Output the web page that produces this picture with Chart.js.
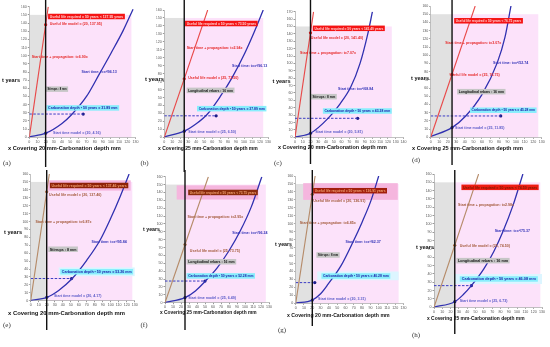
<!DOCTYPE html>
<html>
<head>
<meta charset="utf-8">
<script src="https://cdn.jsdelivr.net/npm/chart.js@4.4.1/dist/chart.umd.min.js"></script>
<style>
  html, body { margin: 0; padding: 0; background: #fff; }
  body { width: 550px; height: 347px; position: relative; overflow: hidden; }
  canvas { position: absolute; }
</style>
</head>
<body>
<script>
// ---- values ----
const panelNames = ["(a)", "(b)", "(c)", "(d)", "(e)", "(f)", "(g)", "(h)"];
const coverDepth = [20, 25, 20, 25, 20, 25, 20, 25];
const xMaxValues = [130, 130, 140, 130, 130, 130, 130, 130];
const yMaxValues = [160, 160, 170, 160, 160, 160, 160, 160];
const zoneTop = 150;
const zoneEnd = [125, 124, 125, 126, 127, 126, 124, 128];

// start time + propagation lines
const propA = [[0, 0], [23.2, 160]];
const propB = [[0, 0], [54.4, 160]];
const propC = [[0, 0], [24, 170]];
const propD = [[0, 0], [52.1, 160]];
const propE = [[0, 0], [23.3, 160]];
const propF = [[0, 0], [54.2, 160]];
const propG = [[0, 0], [23.4, 160]];
const propH = [[0, 0], [53.7, 160]];

// start time curves
const startA = [[0, 0.5], [20, 5], [40, 17], [52, 28], [70, 50], [86, 78], [100, 103], [115, 131], [127, 157]];
const startB = [[0, 0.5], [25, 7.7], [40, 17], [53, 28], [70, 51], [85, 75], [101, 106], [113, 133], [124, 160]];
const startC = [[0, 0.5], [20, 5.5], [43, 26], [58, 45], [72, 68], [84, 100], [94, 140], [100, 170]];
const startD = [[0, 1], [25, 11.8], [41, 26], [60, 52], [78, 91], [87, 122], [94, 160]];
const startE = [[0, 0.3], [20, 4.2], [35, 13], [51, 27], [70, 51], [87, 77], [100, 104], [112, 132], [123, 160]];
const startF = [[0, 0.3], [25, 6.5], [38, 15], [50, 27], [65, 44], [80, 66], [94, 91], [108, 122], [121, 160]];
const startG = [[0, 0.3], [20, 4], [30, 12], [39, 24], [55, 48], [69, 77], [80, 102], [91, 130], [100, 160]];
const startH = [[0, 0.3], [25, 6.7], [35, 15], [45, 26], [60, 46], [72, 67], [83, 91], [95, 122], [107, 160]];

const usefulAtCover = [137.95, 73.5, 141.4, 76.75, 137.46, 73.75, 136.91, 74.5];
const startAtCover = [5, 7.7, 5.5, 11.8, 4.2, 6.5, 4, 6.7];
const depthT = [28.5, 27, 25.7, 26, 28, 27.5, 26, 26];
const depthX = [66, 65, 81, 82, 51, 50, 23, 45];

const propSets = [propA, propB, propC, propD, propE, propF, propG, propH];
const startSets = [startA, startB, startC, startD, startE, startF, startG, startH];

// ---- page layout of each panel (pixels) ----
const layouts = [
  { cx: 0,   cy: 0,   w: 140, h: 172, L: 29.3,  R: 135.5, T: 6.7,   B: 137.3, lt: 0,   lb: 167, xt: [8, 148, 113],     yt: [2, 80, 18],     lab: [3, 163] },
  { cx: 140, cy: 0,   w: 132, h: 172, L: 164.3, R: 268.3, T: 10,    B: 137.3, lt: 0,   lb: 172, xt: [158, 149, 100],   yt: [145, 79, 19],   lab: [140.5, 163] },
  { cx: 272, cy: 0,   w: 138, h: 170, L: 295,   R: 403.4, T: 11.7,  B: 137.3, lt: 0,   lb: 164, xt: [278, 147.5, 109], yt: [272.5, 81.7, 18], lab: [274, 163] },
  { cx: 410, cy: 0,   w: 140, h: 170, L: 430.7, R: 541.7, T: 6,     B: 137.3, lt: 0,   lb: 165, xt: [412, 148, 111],   yt: [411, 78, 18],   lab: [412, 160] },
  { cx: 0,   cy: 170, w: 140, h: 177, L: 30.7,  R: 134.7, T: 174,   B: 300.7, lt: 170, lb: 330, xt: [8, 313.3, 117],   yt: [4, 232.7, 18],  lab: [3, 325] },
  { cx: 140, cy: 170, w: 133, h: 177, L: 165,   R: 269,   T: 176.7, B: 302.7, lt: 170, lb: 330, xt: [160, 313, 97],    yt: [143, 230, 17],  lab: [140.5, 325] },
  { cx: 273, cy: 170, w: 137, h: 177, L: 295.7, R: 403.6, T: 176,   B: 303.3, lt: 170, lb: 326, xt: [287, 315.7, 103], yt: [275, 245, 17],  lab: [278, 330] },
  { cx: 410, cy: 170, w: 140, h: 177, L: 434,   R: 542,   T: 174,   B: 307.3, lt: 170, lb: 334, xt: [427, 318.5, 98],  yt: [416, 247, 18],  lab: [412, 335] }
];

// ---- annotation boxes and texts (data coordinates) ----
const RED = "#e62a2a", BROWN = "#a35a3a", BLUE = "#3434b8", CYAN = "#88eefc", GREY = "#c6c6c6";
const notes = [
  [
    { k: "box", x1: 23, x2: 117, t: 148, fill: "#f51414", col: "#ffd2d2", s: "Useful life required = 50 years < 137.95 years" },
    { k: "txt", x: 25, t: 138.6, col: RED, s: "Useful life model = (20, 137.95)" },
    { k: "txt", x: 3, t: 98, col: RED, s: "Start time + propagation: t=6.90x" },
    { k: "txt", x: 64, t: 80, col: BLUE, s: "Start time: t=x²/96.13" },
    { k: "box", x1: 20.5, x2: 47.5, t: 59, fill: GREY, col: "#111", s: "Stirrups : 8 mm" },
    { k: "box", x1: 21, x2: 110, t: 36, fill: CYAN, col: "#1c1ca8", s: "Carbonation depth • 50 years = 31.89 mm" },
    { k: "txt", x: 29, t: 5, col: "#5a5ac8", s: "Start time model = (20, 4.16)" }
  ],
  [
    { k: "box", x1: 26, x2: 117, t: 143, fill: "#f51414", col: "#ffd2d2", s: "Useful life required = 50 years < 73.50 years" },
    { k: "txt", x: 28, t: 112, col: RED, s: "Start time + propagation: t=2.94x" },
    { k: "txt", x: 30, t: 74.5, col: RED, s: "Useful life model = (25, 73.50)" },
    { k: "txt", x: 85, t: 89, col: BLUE, s: "Start time: t=x²/96.13" },
    { k: "box", x1: 28, x2: 88, t: 59, fill: GREY, col: "#111", s: "Longitudinal rebars : 16 mm" },
    { k: "box", x1: 41, x2: 128, t: 36, fill: CYAN, col: "#1c1ca8", s: "Carbonation depth • 50 years = 37.89 mm" },
    { k: "txt", x: 30, t: 7, col: "#5a5ac8", s: "Start time model = (25, 6.50)" }
  ],
  [
    { k: "box", x1: 23, x2: 116, t: 147.5, fill: "#f51414", col: "#ffd2d2", s: "Useful life required = 50 years < 141.40 years" },
    { k: "txt", x: 20.5, t: 135, col: RED, s: "Useful life model = (20, 141.40)" },
    { k: "txt", x: 6.5, t: 114.5, col: RED, s: "Start time + propagation: t=7.07x" },
    { k: "txt", x: 55.6, t: 66, col: BLUE, s: "Start time: t=x²/68.84" },
    { k: "box", x1: 20.5, x2: 54, t: 55, fill: GREY, col: "#111", s: "Stirrups : 8 mm" },
    { k: "box", x1: 36, x2: 125, t: 35.6, fill: CYAN, col: "#1c1ca8", s: "Carbonation depth • 50 years = 43.28 mm" },
    { k: "txt", x: 26, t: 6.8, col: "#5a5ac8", s: "Start time model = (20, 5.81)" }
  ],
  [
    { k: "box", x1: 27.5, x2: 108, t: 142, fill: "#f51414", col: "#ffd2d2", s: "Useful life required = 50 years < 76.75 years" },
    { k: "txt", x: 17, t: 115, col: RED, s: "Start time + propagation: t=3.07x" },
    { k: "txt", x: 73, t: 91, col: BLUE, s: "Start time: t=x²/52.74" },
    { k: "txt", x: 22, t: 76, col: RED, s: "Useful life model = (25, 76.75)" },
    { k: "box", x1: 31, x2: 87.6, t: 55.6, fill: GREY, col: "#111", s: "Longitudinal rebars : 16 mm" },
    { k: "box", x1: 46, x2: 124, t: 33, fill: CYAN, col: "#1c1ca8", s: "Carbonation depth • 50 years = 45.28 mm" },
    { k: "txt", x: 28.5, t: 11, col: "#5a5ac8", s: "Start time model = (25, 11.85)" }
  ],
  [
    { k: "glow", x1: 22, x2: 125, t1: 139, t2: 152, fill: "#f5b6de" },
    { k: "box", x1: 24, x2: 122, t: 145.5, fill: "#8e2208", col: "#f0a070", s: "Useful life required = 50 years < 137.46 years" },
    { k: "txt", x: 23, t: 133, col: BROWN, s: "Useful life model = (20, 137.46)" },
    { k: "txt", x: 6, t: 100, col: BROWN, s: "Start time + propagation: t=6.87x" },
    { k: "txt", x: 76, t: 74.5, col: BLUE, s: "Start time: t=x²/95.84" },
    { k: "box", x1: 22, x2: 59, t: 65, fill: GREY, col: "#111", s: "Stirrups : 8 mm" },
    { k: "glow", x1: 35, x2: 130, t1: 31, t2: 42, fill: "#d9f6ff" },
    { k: "box", x1: 37, x2: 128, t: 36.6, fill: CYAN, col: "#1c1ca8", s: "Carbonation depth • 50 years = 53.26 mm" },
    { k: "txt", x: 29, t: 6, col: "#5a5ac8", s: "Start time model = (20, 4.17)" }
  ],
  [
    { k: "glow", x1: 14.6, x2: 116.6, t1: 131, t2: 149, fill: "#f5b6de" },
    { k: "box", x1: 29, x2: 116, t: 140, fill: "#8b2c0c", col: "#f0a070", s: "Useful life required = 50 years < 73.75 years" },
    { k: "txt", x: 28, t: 109, col: BROWN, s: "Start time + propagation: t=2.95x" },
    { k: "txt", x: 84, t: 89, col: BLUE, s: "Start time: t=x²/96.24" },
    { k: "txt", x: 31, t: 65.6, col: BROWN, s: "Useful life model = (25, 73.75)" },
    { k: "box", x1: 27, x2: 89, t: 52, fill: GREY, col: "#111", s: "Longitudinal rebars : 16 mm" },
    { k: "box", x1: 27, x2: 112.5, t: 34, fill: CYAN, col: "#1c1ca8", s: "Carbonation depth • 50 years = 52.28 mm" },
    { k: "txt", x: 29, t: 6, col: "#5a5ac8", s: "Start time model = (25, 6.49)" }
  ],
  [
    { k: "glow", x1: 9, x2: 123, t1: 130, t2: 151, fill: "#f5b6de" },
    { k: "box", x1: 21, x2: 110, t: 141.5, fill: "#a21e0c", col: "#f0a070", s: "Useful life required = 50 years < 136.91 years" },
    { k: "txt", x: 21, t: 129, col: BROWN, s: "Useful life model = (20, 136.91)" },
    { k: "txt", x: 5, t: 100.5, col: BROWN, s: "Start time + propagation: t=6.85x" },
    { k: "txt", x: 60, t: 77.4, col: BLUE, s: "Start time: t=x²/62.37" },
    { k: "box", x1: 25, x2: 53, t: 60.7, fill: GREY, col: "#111", s: "Stirrups : 8 mm" },
    { k: "glow", x1: 26, x2: 124, t1: 29, t2: 40, fill: "#dcf5ff" },
    { k: "box", x1: 31, x2: 114, t: 34.3, fill: CYAN, col: "#1c1ca8", s: "Carbonation depth • 50 years = 40.28 mm" },
    { k: "txt", x: 27, t: 6, col: "#5a5ac8", s: "Start time model = (20, 3.31)" }
  ],
  [
    { k: "box", x1: 33, x2: 126, t: 144, fill: "#ee1c12", col: "#7a1a00", s: "Useful life required = 50 years < 74.50 years" },
    { k: "txt", x: 29, t: 123, col: BROWN, s: "Start time + propagation: t=2.98x" },
    { k: "txt", x: 73, t: 91, col: BLUE, s: "Start time: t=x²/75.37" },
    { k: "txt", x: 31, t: 73, col: BROWN, s: "Useful life model = (25, 74.50)" },
    { k: "box", x1: 27, x2: 91, t: 56, fill: GREY, col: "#111", s: "Longitudinal rebars : 16 mm" },
    { k: "glow", x1: 24, x2: 130, t1: 28, t2: 40, fill: "#dcf5ff" },
    { k: "box", x1: 31, x2: 125, t: 34, fill: CYAN, col: "#1c1ca8", s: "Carbonation depth • 50 years = 46.08 mm" },
    { k: "txt", x: 31, t: 7, col: "#5a5ac8", s: "Start time model = (25, 6.73)" }
  ]
];

const YW = 8, XH = 6;
const FONT = "Liberation Sans, Arial, sans-serif";

function fitFont(ctx, s, weight, width, maxSize) {
  let size = maxSize;
  ctx.font = weight + " " + size + "px " + FONT;
  const w = ctx.measureText(s).width;
  if (w > width) size = size * width / w;
  ctx.font = weight + " " + size + "px " + FONT;
  return size;
}

function makePanel(i) {
  const lay = layouts[i];
  const cover = coverDepth[i];
  const topRow = i < 4;
  const propColor = topRow ? "#e84848" : "#b58a68";

  const cv = document.createElement("canvas");
  cv.width = lay.w;
  cv.height = lay.h;
  cv.style.left = lay.cx + "px";
  cv.style.top = lay.cy + "px";
  document.body.appendChild(cv);

  const deco = {
    id: "deco" + i,
    beforeDraw(chart) {
      const { ctx, scales: { x, y } } = chart;
      const X = v => x.getPixelForValue(v), Y = v => y.getPixelForValue(v);
      ctx.save();
      ctx.fillStyle = "#e1e1e1";
      ctx.fillRect(X(0), Y(zoneTop), X(cover) - X(0), Y(0) - Y(zoneTop));
      ctx.fillStyle = "#fce2fa";
      ctx.fillRect(X(cover), Y(zoneTop), X(zoneEnd[i]) - X(cover), Y(0) - Y(zoneTop));
      notes[i].filter(n => n.k === "glow").forEach(n => {
        ctx.fillStyle = n.fill;
        ctx.fillRect(X(n.x1), Y(n.t2), X(n.x2) - X(n.x1), Y(n.t1) - Y(n.t2));
      });
      ctx.restore();
    },
    afterDatasetsDraw(chart) {
      const { ctx, scales: { x, y } } = chart;
      const X = v => x.getPixelForValue(v), Y = v => y.getPixelForValue(v);
      ctx.save();
      ctx.textBaseline = "middle";
      notes[i].forEach(n => {
        if (n.k === "box") {
          const h = 5.5;
          ctx.fillStyle = n.fill;
          ctx.fillRect(X(n.x1), Y(n.t) - h / 2, X(n.x2) - X(n.x1), h);
          fitFont(ctx, n.s, "bold", X(n.x2) - X(n.x1) - 3, 3.8);
          ctx.fillStyle = n.col;
          ctx.textAlign = "center";
          ctx.fillText(n.s, (X(n.x1) + X(n.x2)) / 2, Y(n.t) + 0.3);
        } else if (n.k === "txt") {
          ctx.font = "bold 3.6px " + FONT;
          ctx.fillStyle = n.col;
          ctx.textAlign = "left";
          ctx.fillText(n.s, X(n.x), Y(n.t));
        }
      });
      ctx.restore();
    },
    afterDraw(chart) {
      const { ctx, scales: { x } } = chart;
      ctx.save();
      ctx.fillStyle = "#111";
      ctx.textBaseline = "middle";
      ctx.textAlign = "left";
      const title = "x Covering " + cover + " mm-Carbonation depth mm";
      fitFont(ctx, title, "bold", lay.xt[2], 8);
      ctx.fillText(title, lay.xt[0] - lay.cx, lay.xt[1] - lay.cy);
      fitFont(ctx, "t years", "bold", lay.yt[2], 7);
      ctx.fillText("t years", lay.yt[0] - lay.cx, lay.yt[1] - lay.cy);
      ctx.font = "7px Liberation Serif, serif";
      ctx.fillStyle = "#333";
      ctx.fillText(panelNames[i], lay.lab[0] - lay.cx, lay.lab[1] - lay.cy);
      // covering depth line
      const px = x.getPixelForValue(cover);
      ctx.strokeStyle = "#111";
      ctx.lineWidth = 1.4;
      ctx.beginPath();
      ctx.moveTo(px, lay.lt - lay.cy);
      ctx.lineTo(px, lay.lb - lay.cy);
      ctx.stroke();
      ctx.restore();
    }
  };

  const toXY = arr => arr.map(p => ({ x: p[0], y: p[1] }));
  const tickFont = { size: 3.6, family: FONT };

  new Chart(cv, {
    type: "line",
    data: {
      datasets: [
        {
          data: toXY(propSets[i]),
          borderColor: propColor,
          borderWidth: 1.1,
          pointRadius: 0
        },
        {
          data: toXY(startSets[i]),
          borderColor: "#3030b0",
          borderWidth: 1.3,
          pointRadius: 0,
          cubicInterpolationMode: "monotone"
        },
        {
          data: [{ x: 0, y: depthT[i] }, { x: depthX[i], y: depthT[i] }],
          borderColor: "#3c3cc4",
          borderWidth: 1,
          borderDash: [2.5, 1.5],
          pointRadius: 0
        },
        {
          data: [{ x: cover, y: usefulAtCover[i] }],
          showLine: false,
          pointRadius: 1.6,
          pointBackgroundColor: topRow ? "#e01818" : "#a05a30",
          pointBorderWidth: 0
        },
        {
          data: [{ x: cover, y: startAtCover[i] }, { x: depthX[i], y: depthT[i] }],
          showLine: false,
          pointRadius: 1.6,
          pointBackgroundColor: "#1c1c88",
          pointBorderWidth: 0
        }
      ]
    },
    options: {
      responsive: false,
      animation: false,
      devicePixelRatio: 1,
      layout: {
        padding: {
          left: (lay.L - lay.cx) - YW,
          right: (lay.cx + lay.w) - lay.R,
          top: lay.T - lay.cy,
          bottom: (lay.cy + lay.h) - lay.B - XH
        }
      },
      plugins: { legend: { display: false }, tooltip: { enabled: false } },
      scales: {
        x: {
          type: "linear",
          min: 0,
          max: xMaxValues[i],
          afterFit: s => { s.height = XH; },
          ticks: { stepSize: 10, autoSkip: false, maxRotation: 0, minRotation: 0, padding: 1, color: "#555", font: tickFont },
          grid: { display: true, drawOnChartArea: false, drawTicks: true, tickLength: 1.5, color: "#999" },
          border: { color: "#999", width: 0.6 }
        },
        y: {
          type: "linear",
          min: 0,
          max: yMaxValues[i],
          afterFit: s => { s.width = YW; },
          ticks: { stepSize: 10, autoSkip: false, padding: 1, color: "#555", font: tickFont },
          grid: { display: true, drawOnChartArea: false, drawTicks: true, tickLength: 1.5, color: "#999" },
          border: { color: "#999", width: 0.6 }
        }
      }
    },
    plugins: [deco]
  });
}

for (let i = 0; i < 8; i++) makePanel(i);
</script>
</body>
</html>
